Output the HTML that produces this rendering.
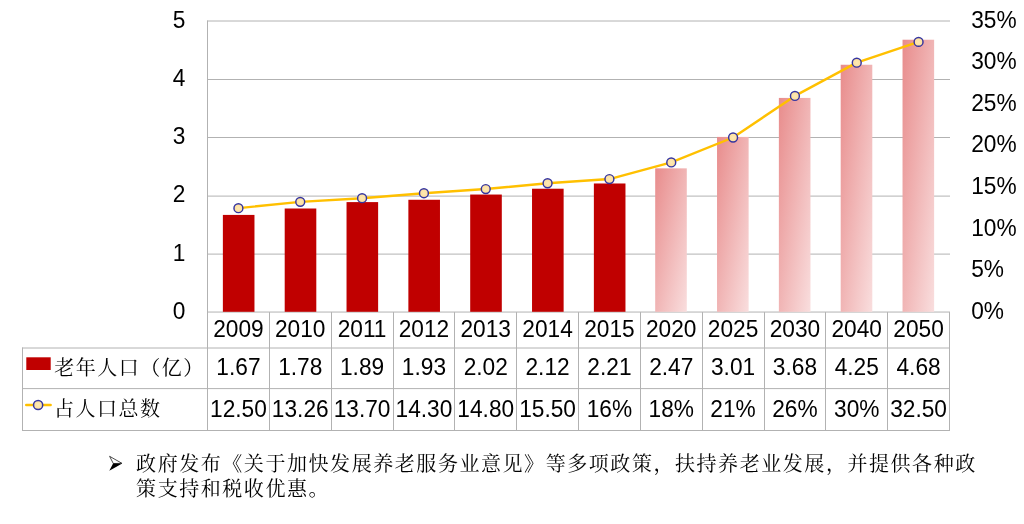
<!DOCTYPE html>
<html lang="zh-CN">
<head>
<meta charset="utf-8">
<title>老年人口（亿）与占人口总数</title>
<style>
html,body{margin:0;padding:0;background:#fff;}
body{width:1024px;height:524px;overflow:hidden;position:relative;}
svg{position:absolute;left:0;top:0;display:block;}
.n{font-family:"Liberation Sans","Noto Sans CJK SC",sans-serif;font-size:22.7px;fill:#000;}
.c{font-family:"Liberation Serif","Noto Serif CJK SC",serif;font-size:20px;letter-spacing:1.5px;font-weight:400;fill:#000;text-spacing-trim:space-all;font-kerning:none;}
.p{letter-spacing:1.556px;}
.g{stroke:#b2b2b2;stroke-width:1;fill:none;}
</style>
</head>
<body>
<svg width="1024" height="524" viewBox="0 0 1024 524">
<defs>
<linearGradient id="pk" x1="0" y1="0" x2="1" y2="1">
<stop offset="0" stop-color="#e88c8c"/>
<stop offset="1" stop-color="#f9dede"/>
</linearGradient>
<radialGradient id="mk" cx="0.5" cy="0.5" r="0.6">
<stop offset="0" stop-color="#fee9b4"/>
<stop offset="1" stop-color="#fcdc98"/>
</radialGradient>
</defs>
<rect x="0" y="0" width="1024" height="524" fill="#ffffff"/>

<g class="g">
<line x1="207" y1="21" x2="950" y2="21"/>
<line x1="207" y1="79.5" x2="950" y2="79.5"/>
<line x1="207" y1="137.5" x2="950" y2="137.5"/>
<line x1="207" y1="196.1" x2="950" y2="196.1"/>
<line x1="207" y1="254.1" x2="950" y2="254.1"/>
<line x1="207" y1="312.05" x2="950" y2="312.05"/>
</g>
<rect x="222.87" y="214.91" width="31.6" height="96.89" fill="#c00000"/>
<rect x="284.7" y="208.5" width="31.6" height="103.3" fill="#c00000"/>
<rect x="346.53" y="202.1" width="31.6" height="109.7" fill="#c00000"/>
<rect x="408.37" y="199.77" width="31.6" height="112.03" fill="#c00000"/>
<rect x="470.2" y="194.54" width="31.6" height="117.26" fill="#c00000"/>
<rect x="532.03" y="188.72" width="31.6" height="123.08" fill="#c00000"/>
<rect x="593.87" y="183.48" width="31.6" height="128.32" fill="#c00000"/>
<rect x="655.2" y="168.35" width="31.6" height="143.45" fill="url(#pk)"/>
<rect x="717.03" y="136.92" width="31.6" height="174.88" fill="url(#pk)"/>
<rect x="778.87" y="97.92" width="31.6" height="213.88" fill="url(#pk)"/>
<rect x="840.7" y="64.75" width="31.6" height="247.05" fill="url(#pk)"/>
<rect x="902.53" y="39.72" width="31.6" height="272.08" fill="url(#pk)"/>
<g class="g">
<line x1="207.5" y1="20.6" x2="207.5" y2="431"/>
<line x1="269.5" y1="312.1" x2="269.5" y2="431"/>
<line x1="331.5" y1="312.1" x2="331.5" y2="431"/>
<line x1="393.5" y1="312.1" x2="393.5" y2="431"/>
<line x1="454.5" y1="312.1" x2="454.5" y2="431"/>
<line x1="516.5" y1="312.1" x2="516.5" y2="431"/>
<line x1="578.5" y1="312.1" x2="578.5" y2="431"/>
<line x1="640.5" y1="312.1" x2="640.5" y2="431"/>
<line x1="702.5" y1="312.1" x2="702.5" y2="431"/>
<line x1="764.5" y1="312.1" x2="764.5" y2="431"/>
<line x1="825.5" y1="312.1" x2="825.5" y2="431"/>
<line x1="887.5" y1="312.1" x2="887.5" y2="431"/>
<line x1="949.5" y1="312.1" x2="949.5" y2="431"/>
<line x1="22.5" y1="347.5" x2="22.5" y2="431"/>
<line x1="22" y1="348" x2="950" y2="348"/>
<line x1="22" y1="388.6" x2="950" y2="388.6"/>
<line x1="22" y1="430.5" x2="950" y2="430.5"/>
</g>
<polyline points="238.42,208.17 300.25,201.85 362.08,198.19 423.92,193.21 485.75,189.05 547.58,183.23 609.42,179.07 671.25,162.44 733.08,137.5 794.92,95.93 856.75,62.67 918.58,41.89" fill="none" stroke="#ffc000" stroke-width="2.4" stroke-linejoin="round" stroke-linecap="round"/>
<circle cx="238.42" cy="208.17" r="4.45" fill="url(#mk)" stroke="#3535a0" stroke-width="1.45"/>
<circle cx="300.25" cy="201.85" r="4.45" fill="url(#mk)" stroke="#3535a0" stroke-width="1.45"/>
<circle cx="362.08" cy="198.19" r="4.45" fill="url(#mk)" stroke="#3535a0" stroke-width="1.45"/>
<circle cx="423.92" cy="193.21" r="4.45" fill="url(#mk)" stroke="#3535a0" stroke-width="1.45"/>
<circle cx="485.75" cy="189.05" r="4.45" fill="url(#mk)" stroke="#3535a0" stroke-width="1.45"/>
<circle cx="547.58" cy="183.23" r="4.45" fill="url(#mk)" stroke="#3535a0" stroke-width="1.45"/>
<circle cx="609.42" cy="179.07" r="4.45" fill="url(#mk)" stroke="#3535a0" stroke-width="1.45"/>
<circle cx="671.25" cy="162.44" r="4.45" fill="url(#mk)" stroke="#3535a0" stroke-width="1.45"/>
<circle cx="733.08" cy="137.5" r="4.45" fill="url(#mk)" stroke="#3535a0" stroke-width="1.45"/>
<circle cx="794.92" cy="95.93" r="4.45" fill="url(#mk)" stroke="#3535a0" stroke-width="1.45"/>
<circle cx="856.75" cy="62.67" r="4.45" fill="url(#mk)" stroke="#3535a0" stroke-width="1.45"/>
<circle cx="918.58" cy="41.89" r="4.45" fill="url(#mk)" stroke="#3535a0" stroke-width="1.45"/>
<text class="n" transform="translate(185.4 27.7) scale(1 1.09)" text-anchor="end">5</text>
<text class="n" transform="translate(185.4 85.9) scale(1 1.09)" text-anchor="end">4</text>
<text class="n" transform="translate(185.4 144.1) scale(1 1.09)" text-anchor="end">3</text>
<text class="n" transform="translate(185.4 202.3) scale(1 1.09)" text-anchor="end">2</text>
<text class="n" transform="translate(185.4 260.5) scale(1 1.09)" text-anchor="end">1</text>
<text class="n" transform="translate(185.4 318.7) scale(1 1.09)" text-anchor="end">0</text>
<text class="n" transform="translate(971.2 27.7) scale(1 1.09)">35%</text>
<text class="n" transform="translate(971.2 69.27) scale(1 1.09)">30%</text>
<text class="n" transform="translate(971.2 110.84) scale(1 1.09)">25%</text>
<text class="n" transform="translate(971.2 152.41) scale(1 1.09)">20%</text>
<text class="n" transform="translate(971.2 193.99) scale(1 1.09)">15%</text>
<text class="n" transform="translate(971.2 235.56) scale(1 1.09)">10%</text>
<text class="n" transform="translate(971.2 277.13) scale(1 1.09)">5%</text>
<text class="n" transform="translate(971.2 318.7) scale(1 1.09)">0%</text>
<text class="n" transform="translate(238.42 336.6) scale(1 1.09)" text-anchor="middle">2009</text>
<text class="n" transform="translate(238.42 375.3) scale(1 1.09)" text-anchor="middle">1.67</text>
<text class="n" transform="translate(238.42 416.9) scale(1 1.09)" text-anchor="middle">12.50</text>
<text class="n" transform="translate(300.25 336.6) scale(1 1.09)" text-anchor="middle">2010</text>
<text class="n" transform="translate(300.25 375.3) scale(1 1.09)" text-anchor="middle">1.78</text>
<text class="n" transform="translate(300.25 416.9) scale(1 1.09)" text-anchor="middle">13.26</text>
<text class="n" transform="translate(362.08 336.6) scale(1 1.09)" text-anchor="middle">2011</text>
<text class="n" transform="translate(362.08 375.3) scale(1 1.09)" text-anchor="middle">1.89</text>
<text class="n" transform="translate(362.08 416.9) scale(1 1.09)" text-anchor="middle">13.70</text>
<text class="n" transform="translate(423.92 336.6) scale(1 1.09)" text-anchor="middle">2012</text>
<text class="n" transform="translate(423.92 375.3) scale(1 1.09)" text-anchor="middle">1.93</text>
<text class="n" transform="translate(423.92 416.9) scale(1 1.09)" text-anchor="middle">14.30</text>
<text class="n" transform="translate(485.75 336.6) scale(1 1.09)" text-anchor="middle">2013</text>
<text class="n" transform="translate(485.75 375.3) scale(1 1.09)" text-anchor="middle">2.02</text>
<text class="n" transform="translate(485.75 416.9) scale(1 1.09)" text-anchor="middle">14.80</text>
<text class="n" transform="translate(547.58 336.6) scale(1 1.09)" text-anchor="middle">2014</text>
<text class="n" transform="translate(547.58 375.3) scale(1 1.09)" text-anchor="middle">2.12</text>
<text class="n" transform="translate(547.58 416.9) scale(1 1.09)" text-anchor="middle">15.50</text>
<text class="n" transform="translate(609.42 336.6) scale(1 1.09)" text-anchor="middle">2015</text>
<text class="n" transform="translate(609.42 375.3) scale(1 1.09)" text-anchor="middle">2.21</text>
<text class="n" transform="translate(609.42 416.9) scale(1 1.09)" text-anchor="middle">16%</text>
<text class="n" transform="translate(671.25 336.6) scale(1 1.09)" text-anchor="middle">2020</text>
<text class="n" transform="translate(671.25 375.3) scale(1 1.09)" text-anchor="middle">2.47</text>
<text class="n" transform="translate(671.25 416.9) scale(1 1.09)" text-anchor="middle">18%</text>
<text class="n" transform="translate(733.08 336.6) scale(1 1.09)" text-anchor="middle">2025</text>
<text class="n" transform="translate(733.08 375.3) scale(1 1.09)" text-anchor="middle">3.01</text>
<text class="n" transform="translate(733.08 416.9) scale(1 1.09)" text-anchor="middle">21%</text>
<text class="n" transform="translate(794.92 336.6) scale(1 1.09)" text-anchor="middle">2030</text>
<text class="n" transform="translate(794.92 375.3) scale(1 1.09)" text-anchor="middle">3.68</text>
<text class="n" transform="translate(794.92 416.9) scale(1 1.09)" text-anchor="middle">26%</text>
<text class="n" transform="translate(856.75 336.6) scale(1 1.09)" text-anchor="middle">2040</text>
<text class="n" transform="translate(856.75 375.3) scale(1 1.09)" text-anchor="middle">4.25</text>
<text class="n" transform="translate(856.75 416.9) scale(1 1.09)" text-anchor="middle">30%</text>
<text class="n" transform="translate(918.58 336.6) scale(1 1.09)" text-anchor="middle">2050</text>
<text class="n" transform="translate(918.58 375.3) scale(1 1.09)" text-anchor="middle">4.68</text>
<text class="n" transform="translate(918.58 416.9) scale(1 1.09)" text-anchor="middle">32.50</text>
<rect x="26.3" y="357.3" width="24.4" height="12.7" fill="#c00000"/>
<text class="c" x="54.3" y="374.6">老年人口（亿）</text>
<line x1="26.3" y1="405" x2="50.6" y2="405" stroke="#ffc000" stroke-width="2.6" stroke-linecap="round"/>
<circle cx="38.1" cy="405" r="4.6" fill="url(#mk)" stroke="#3535a0" stroke-width="1.5"/>
<text class="c" x="54.1" y="416">占人口总数</text>
<path d="M109.6 456.3 L121.9 463.3 L113.3 463.5 Z" fill="#fff" stroke="#000" stroke-width="0.7" stroke-linejoin="miter"/>
<path d="M113.1 463.4 L122.2 463.4 L109.3 470.8 Z" fill="#000"/>
<text class="c p" x="136.1" y="471.1">政府发布《关于加快发展养老服务业意见》等多项政策，扶持养老业发展，并提供各种政</text>
<text class="c p" x="136.1" y="496.3">策支持和税收优惠。</text>
</svg>
</body>
</html>
